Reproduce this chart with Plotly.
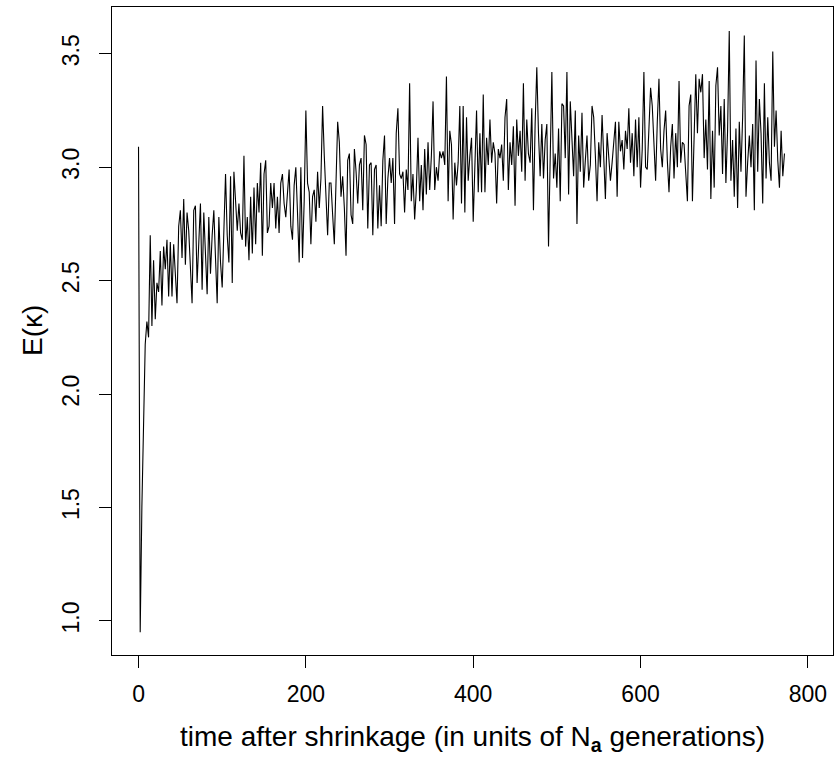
import numpy as np
import plotly.graph_objects as go

# E(kappa) values, one every 2 time units starting at t=0
seg_a = [3.09, 0.95, 1.50, 1.90, 2.22, 2.32, 2.25, 2.70, 2.30, 2.59,
         2.33, 2.49, 2.45, 2.63, 2.39, 2.65, 2.55, 2.68, 2.43, 2.67,
         2.43, 2.66, 2.50, 2.40, 2.74, 2.81, 2.60, 2.86, 2.57, 2.80,
         2.72, 2.55, 2.40, 2.81, 2.83, 2.49, 2.69, 2.84, 2.46, 2.80,
         2.62, 2.44, 2.78, 2.53, 2.70, 2.81, 2.60, 2.40, 2.78, 2.58,
         2.47, 2.72, 2.97, 2.70, 2.58, 2.96, 2.49, 2.98, 2.87, 2.72,
         2.84]
seg_b = [2.71, 2.68, 3.05, 2.65, 2.78, 2.59, 2.87, 2.62, 2.91, 2.66,
         2.93, 2.80, 3.02, 2.61, 2.97, 3.03, 2.71, 2.74, 2.93, 2.82,
         2.93, 2.73, 2.87, 2.71, 2.93, 2.97, 2.84, 2.78, 2.88, 2.99,
         2.74, 2.68, 2.92, 3.00, 2.80, 2.58, 3.00, 2.60, 2.85, 3.25,
         2.93, 2.89, 2.66, 2.87, 2.90, 2.76, 2.98, 2.82, 2.95, 3.27,
         3.05, 2.87, 2.70, 2.93, 2.93, 2.79, 2.66, 2.93, 3.20]
seg_c = [3.11, 2.87, 2.96, 2.82, 2.61, 3.03, 3.06, 2.79, 2.75, 3.08,
         2.98, 2.84, 3.01, 3.04, 2.81, 3.14, 3.10, 2.73, 3.01, 3.02,
         2.70, 2.99, 3.01, 2.73, 2.92, 2.74, 3.03, 3.14, 2.75, 2.95,
         3.04, 2.93, 3.04, 2.75, 3.15, 3.26, 2.97, 2.95, 2.98, 2.80,
         2.99, 2.90, 3.37, 2.85, 2.97, 2.77, 2.90, 3.13, 2.85, 3.01,
         2.81, 3.08, 2.88, 3.11, 2.90, 3.05]
seg_d = [3.29, 2.90, 3.00, 2.94, 3.07, 3.04, 3.07, 3.01, 3.40, 2.85,
         3.16, 3.10, 2.77, 3.02, 2.92, 3.02, 3.27, 2.84, 3.27, 2.80,
         3.22, 2.94, 3.05, 3.13, 2.76, 2.98, 3.25, 2.89, 3.15, 2.89,
         3.32, 2.89, 3.13, 3.01, 3.21, 3.02, 3.11, 3.06, 2.84, 3.08,
         3.04, 3.10, 2.94, 3.22, 3.30, 2.90, 3.11, 3.01, 3.18, 2.83,
         3.21, 3.05, 3.16, 2.98, 3.37, 2.94, 3.21, 3.06, 3.02, 3.26,
         2.81, 3.19, 3.44]
seg_e = [3.15, 2.96, 3.19, 2.95, 3.12, 3.19, 2.65, 3.07, 3.42, 2.95,
         3.06, 2.91, 3.17, 2.85, 3.28, 3.27, 3.04, 3.42, 2.88, 3.29,
         3.10, 2.96, 3.25, 2.75, 3.14, 2.98, 3.24, 2.91, 3.03, 3.14,
         2.94, 3.01, 3.27, 3.22, 3.05, 2.85, 3.11, 3.00, 3.23, 3.04,
         2.86, 3.15, 3.06, 2.94, 3.02, 3.12, 3.20, 2.87, 3.20, 3.07,
         3.12, 2.99, 3.16, 3.08, 3.26, 3.02, 3.15, 2.96, 3.21]
seg_f = [3.00, 3.22, 2.91, 3.08, 3.42, 3.00, 2.99, 3.14, 3.35, 3.27,
         3.12, 2.94, 3.20, 3.39, 3.08, 3.00, 3.16, 3.25, 3.03, 2.89,
         3.09, 3.19, 2.95, 3.15, 3.00, 3.38, 3.02, 3.11, 3.10, 2.96,
         2.85, 3.27, 3.32, 2.85, 3.19, 3.41, 3.15, 3.39, 3.33, 3.41,
         3.04, 3.21, 2.99, 3.38, 2.86, 3.16, 2.91, 3.36, 3.44, 3.14,
         3.27, 2.97, 3.30, 2.93, 3.16, 3.60]
seg_g = [2.94, 3.12, 2.87, 3.17, 2.82, 3.20, 2.98, 3.22, 3.58, 2.87,
         3.02, 3.14, 3.00, 3.19, 2.81, 3.47, 2.98, 3.30, 3.15, 2.84,
         3.37, 2.95, 3.22, 3.02, 2.94, 3.51, 3.09, 3.25, 3.03, 2.91,
         3.16, 2.96, 3.06]

kappa = seg_a + seg_b + seg_c + seg_d + seg_e + seg_f + seg_g
time_step = 2
time = [i * time_step for i in range(len(kappa))]

x_ticks = [0, 200, 400, 600, 800]
y_ticks = [1.0, 1.5, 2.0, 2.5, 3.0, 3.5]

FONT = "Liberation Sans, Arial, sans-serif"

fig = go.Figure()
fig.add_trace(go.Scatter(x=time, y=kappa, mode="lines",
                         line=dict(color="black", width=1.1),
                         showlegend=False, hoverinfo="skip"))

fig.update_layout(
    width=835, height=762,
    margin=dict(l=112, r=2, t=7, b=107),
    paper_bgcolor="white", plot_bgcolor="white",
    font=dict(family=FONT, size=23, color="black"),
    xaxis=dict(range=[-31.7, 830], tickvals=x_ticks,
               ticks="outside", ticklen=12, tickcolor="black", tickwidth=1,
               showline=True, linecolor="black", linewidth=1, mirror=True,
               showgrid=False, zeroline=False, ticklabelstandoff=6),
    yaxis=dict(range=[0.850, 3.706], tickvals=y_ticks, tickformat=".1f",
               tickangle=-90,
               ticks="outside", ticklen=12, tickcolor="black", tickwidth=1,
               showline=True, linecolor="black", linewidth=1, mirror=True,
               showgrid=False, zeroline=False, ticklabelstandoff=11),
    annotations=[
        dict(text="time after shrinkage (in units of N<sub><b>a</b></sub> generations)",
             xref="paper", yref="paper", x=0.5, y=0, yanchor="middle",
             yshift=-83, showarrow=False, font=dict(size=28)),
        dict(text="E(κ)", xref="paper", yref="paper", x=0, y=0.5,
             xanchor="center", xshift=-80, textangle=-90, showarrow=False,
             font=dict(size=28)),
    ],
)

fig.write_html("out.html")
